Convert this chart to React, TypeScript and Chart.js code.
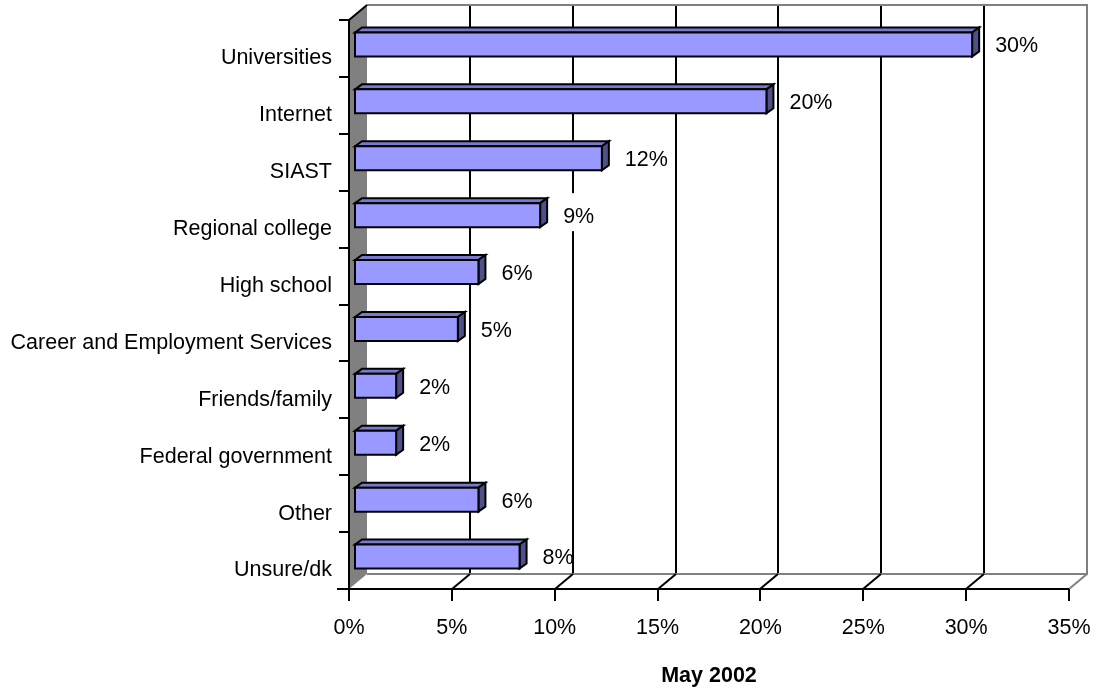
import React, { useEffect, useRef } from "react";
import { Chart, registerables } from "chart.js";

Chart.register(...registerables);

const categories = [
  "Universities",
  "Internet",
  "SIAST",
  "Regional college",
  "High school",
  "Career and Employment Services",
  "Friends/family",
  "Federal government",
  "Other",
  "Unsure/dk",
];
const values = [30, 20, 12, 9, 6, 5, 2, 2, 6, 8];
const valueLabels = ["30%", "20%", "12%", "9%", "6%", "5%", "2%", "2%", "6%", "8%"];
const xMin = 0;
const xMax = 35;
const xStep = 5;
const axisTitle = "May 2002";

const FONT = "'Liberation Sans', Arial, Helvetica, sans-serif";
const FS = 21.5;
const DX = 18;
const DY = -15;
const BX = 6;
const BY = -4;
const BDX = 7;
const BDY = -5;
const FRONT = "#9999FF";
const TOP = "#7A7ACC";
const SIDE = "#505088";
const WALL = "#808080";

const threeD = {
  id: "threeD",
  beforeDatasetsDraw(chart: any) {
    const { ctx, chartArea: a, scales } = chart;
    const x = scales.x;
    const y = scales.y;
    ctx.save();
    ctx.lineCap = "butt";
    const tickVals: number[] = x.ticks.map((t: any) => t.value);
    ctx.lineWidth = 2;
    ctx.strokeStyle = "#000";
    tickVals.forEach((v) => {
      if (v <= xMin || v >= xMax) return;
      const px = Math.round(x.getPixelForValue(v) + DX);
      ctx.beginPath();
      ctx.moveTo(px, a.top + DY);
      ctx.lineTo(px, a.bottom + DY);
      ctx.stroke();
    });
    ctx.strokeStyle = WALL;
    ctx.beginPath();
    ctx.moveTo(a.left + DX, a.top + DY);
    ctx.lineTo(a.right + DX, a.top + DY);
    ctx.lineTo(a.right + DX, a.bottom + DY);
    ctx.lineTo(a.left + DX, a.bottom + DY);
    ctx.stroke();
    tickVals.forEach((v) => {
      if (v <= xMin) return;
      const px = Math.round(x.getPixelForValue(v));
      ctx.strokeStyle = v >= xMax ? WALL : "#000";
      ctx.beginPath();
      ctx.moveTo(px, a.bottom);
      ctx.lineTo(px + DX, a.bottom + DY);
      ctx.stroke();
    });
    ctx.fillStyle = WALL;
    ctx.beginPath();
    ctx.moveTo(a.left, a.top);
    ctx.lineTo(a.left + DX, a.top + DY);
    ctx.lineTo(a.left + DX, a.bottom + DY);
    ctx.lineTo(a.left, a.bottom);
    ctx.closePath();
    ctx.fill();
    ctx.strokeStyle = "#000";
    ctx.beginPath();
    ctx.moveTo(a.left, a.top);
    ctx.lineTo(a.left + DX, a.top + DY);
    ctx.stroke();
    ctx.beginPath();
    ctx.moveTo(a.left, a.top);
    ctx.lineTo(a.left, a.bottom);
    ctx.stroke();
    const n = categories.length;
    const band = (a.bottom - a.top) / n;
    for (let i = 0; i <= n; i++) {
      const yy = Math.round(y.getPixelForValue(0) - band / 2 + i * band);
      ctx.beginPath();
      ctx.moveTo(a.left - 10, yy);
      ctx.lineTo(a.left, yy);
      ctx.stroke();
    }
    ctx.beginPath();
    ctx.moveTo(a.left - 12, a.bottom);
    ctx.lineTo(a.right, a.bottom);
    ctx.stroke();
    tickVals.forEach((v) => {
      const px = Math.round(x.getPixelForValue(v));
      ctx.beginPath();
      ctx.moveTo(px, a.bottom);
      ctx.lineTo(px, a.bottom + 12);
      ctx.stroke();
    });
    ctx.restore();
  },
  afterDatasetsDraw(chart: any) {
    const { ctx } = chart;
    const meta = chart.getDatasetMeta(0);
    ctx.save();
    ctx.lineWidth = 2;
    ctx.strokeStyle = "#000";
    ctx.lineJoin = "miter";
    meta.data.forEach((el: any) => {
      const p = el.getProps(["x", "y", "base", "height"], true);
      const x0 = p.base + BX;
      const x1 = p.x + BX;
      const y0 = p.y - p.height / 2 + BY;
      const y1 = p.y + p.height / 2 + BY;
      ctx.fillStyle = TOP;
      ctx.beginPath();
      ctx.moveTo(x0, y0);
      ctx.lineTo(x0 + BDX, y0 + BDY);
      ctx.lineTo(x1 + BDX, y0 + BDY);
      ctx.lineTo(x1, y0);
      ctx.closePath();
      ctx.fill();
      ctx.stroke();
      ctx.fillStyle = SIDE;
      ctx.beginPath();
      ctx.moveTo(x1, y0);
      ctx.lineTo(x1 + BDX, y0 + BDY);
      ctx.lineTo(x1 + BDX, y1 + BDY);
      ctx.lineTo(x1, y1);
      ctx.closePath();
      ctx.fill();
      ctx.stroke();
      ctx.fillStyle = FRONT;
      ctx.beginPath();
      ctx.rect(x0, y0, x1 - x0, y1 - y0);
      ctx.fill();
      ctx.stroke();
    });
    ctx.font = `${FS}px ${FONT}`;
    ctx.textBaseline = "middle";
    ctx.textAlign = "left";
    meta.data.forEach((el: any, i: number) => {
      const p = el.getProps(["x", "y"], true);
      const tx = p.x + BX + 23;
      const ty = p.y - 2;
      const w = ctx.measureText(valueLabels[i]).width;
      ctx.fillStyle = "#fff";
      ctx.fillRect(tx, ty - 24, w - 4, 38);
      ctx.fillStyle = "#000";
      ctx.fillText(valueLabels[i], tx, ty);
    });
    ctx.restore();
  },
};

export default function App() {
  const ref = useRef<HTMLCanvasElement | null>(null);
  useEffect(() => {
    if (!ref.current) return;
    const chart = new Chart(ref.current, {
      type: "bar",
      data: {
        labels: categories,
        datasets: [
          {
            data: values,
            backgroundColor: "rgba(0,0,0,0)",
            borderWidth: 0,
            barThickness: 24,
          },
        ],
      },
      options: {
        indexAxis: "y",
        animation: false,
        responsive: false,
        devicePixelRatio: 1,
        layout: { padding: { top: 20, right: 27, left: 0, bottom: 0 } },
        plugins: { legend: { display: false }, tooltip: { enabled: false } },
        scales: {
          y: {
            type: "category",
            grid: { display: false, drawTicks: false },
            border: { display: false },
            ticks: {
              color: "#000",
              font: { family: FONT, size: FS },
              padding: 17,
              labelOffset: 10,
            },
            afterFit: (s: any) => {
              s.width = 349;
              s.paddingTop = 0;
              s.paddingBottom = 0;
            },
          },
          x: {
            type: "linear",
            min: xMin,
            max: xMax,
            grid: { display: false, drawTicks: false },
            border: { display: false },
            ticks: {
              stepSize: xStep,
              color: "#000",
              font: { family: FONT, size: FS },
              padding: 26,
              maxRotation: 0,
              callback: (v: any) => `${v}%`,
            },
            title: {
              display: true,
              text: axisTitle,
              color: "#000",
              font: { family: FONT, size: FS, weight: "bold" },
              padding: { top: 0, bottom: 0 },
            },
            afterFit: (s: any) => {
              s.height = 100;
              s.paddingLeft = 0;
              s.paddingRight = 0;
            },
          },
        },
      },
      plugins: [threeD],
    });
    return () => chart.destroy();
  }, []);
  return (
    <div style={{ position: "fixed", left: 0, top: 0, width: 1096, height: 689, background: "#fff" }}>
      <canvas ref={ref} width={1096} height={689} style={{ display: "block" }} />
    </div>
  );
}
